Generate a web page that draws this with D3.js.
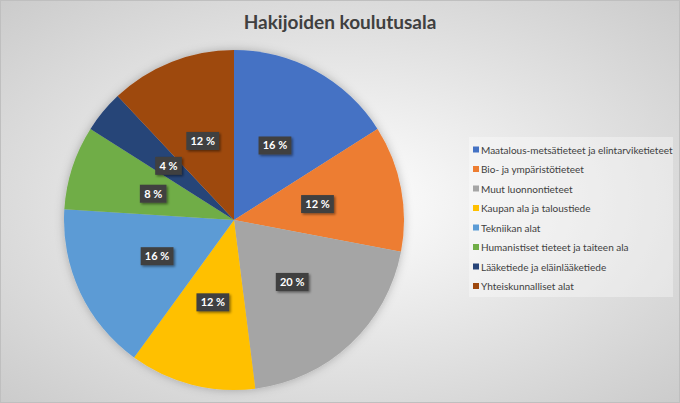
<!DOCTYPE html>
<html>
<head>
<meta charset="utf-8">
<script src="https://cdn.jsdelivr.net/npm/d3@7"></script>
<style>
  body { margin: 0; padding: 0; overflow: hidden; }
  svg { display: block; font-family: Lato, "Open Sans", sans-serif; }
</style>
</head>
<body>
<div id="chart"></div>
<script>
// Data
let categories = [
  "Maatalous-metsätieteet ja elintarviketieteet",
  "Bio- ja ympäristötieteet",
  "Muut luonnontieteet",
  "Kaupan ala ja taloustiede",
  "Tekniikan alat",
  "Humanistiset tieteet ja taiteen ala",
  "Lääketiede ja eläinlääketiede",
  "Yhteiskunnalliset alat"
];
let shares = [16, 12, 20, 12, 16, 8, 4, 12];
let colors = ["#4472C4", "#ED7D31", "#A5A5A5", "#FFC000", "#5B9BD5", "#70AD47", "#264478", "#9E480E"];

let svgWidth = 680;
let svgHeight = 403;

let svg = d3.select("#chart")
  .append("svg")
  .attr("width", svgWidth)
  .attr("height", svgHeight);

let defs = svg.append("defs");

// background gradient, light centre to gray corners
let bg = defs.append("radialGradient")
  .attr("id", "bg")
  .attr("cx", "50%").attr("cy", "50%").attr("r", "75%");
bg.append("stop").attr("offset", "0%").attr("stop-color", "#ffffff");
bg.append("stop").attr("offset", "100%").attr("stop-color", "#c8c8c8");

let shadow = defs.append("filter").attr("id", "shadow")
  .attr("x", "-20%").attr("y", "-20%").attr("width", "140%").attr("height", "140%");
shadow.append("feDropShadow")
  .attr("dx", 0).attr("dy", 0).attr("stdDeviation", 5)
  .attr("flood-color", "#000").attr("flood-opacity", 0.25);

let lblShadow = defs.append("filter").attr("id", "lblShadow")
  .attr("x", "-30%").attr("y", "-30%").attr("width", "160%").attr("height", "160%");
lblShadow.append("feDropShadow")
  .attr("dx", 1.5).attr("dy", 1.5).attr("stdDeviation", 1.2)
  .attr("flood-color", "#000").attr("flood-opacity", 0.45);

svg.append("rect")
  .attr("width", svgWidth)
  .attr("height", svgHeight)
  .attr("fill", "url(#bg)");

svg.append("rect")
  .attr("x", 0.5).attr("y", 0.5)
  .attr("width", svgWidth - 1).attr("height", svgHeight - 1)
  .attr("fill", "none")
  .attr("stroke", "#bfbfbf");

// title
svg.append("text")
  .attr("x", 340)
  .attr("y", 29)
  .attr("text-anchor", "middle")
  .attr("font-size", 19)
  .attr("font-weight", "bold")
  .attr("fill", "#404040")
  .text("Hakijoiden koulutusala");

// pie
let cx = 234, cy = 220, radius = 170;

let pie = d3.pie().sort(null).value(d => d);
let arc = d3.arc().innerRadius(0).outerRadius(radius);
let labelArc = d3.arc().innerRadius(85).outerRadius(85);

let pieGroup = svg.append("g")
  .attr("transform", `translate(${cx},${cy})`);

let arcs = pie(shares);

pieGroup.append("g")
  .attr("filter", "url(#shadow)")
  .selectAll("path")
  .data(arcs)
  .enter()
  .append("path")
  .attr("d", arc)
  .attr("fill", (d, i) => colors[i]);

let labels = pieGroup.selectAll(".lbl")
  .data(arcs)
  .enter()
  .append("g")
  .attr("class", "lbl")
  .attr("transform", d => `translate(${labelArc.centroid(d)})`);

labels.each(function(d) {
  let g = d3.select(this);
  let txt = d.data + " %";
  let w = txt.length * 6.2 + 8;
  g.append("rect")
    .attr("x", -w / 2).attr("y", -9)
    .attr("width", w).attr("height", 18)
    .attr("fill", "#404040")
    .attr("filter", "url(#lblShadow)");
  g.append("text")
    .attr("text-anchor", "middle")
    .attr("dy", "0.35em")
    .attr("font-size", 11)
    .attr("font-weight", "bold")
    .attr("fill", "#ffffff")
    .text(txt);
});

// legend
let legendX = 469, legendY = 137;
let legendStep = 19.5;

svg.append("rect")
  .attr("x", legendX).attr("y", legendY)
  .attr("width", 204).attr("height", 160)
  .attr("fill", "#ffffff")
  .attr("fill-opacity", 0.35);

let legend = svg.selectAll(".leg")
  .data(categories)
  .enter()
  .append("g")
  .attr("class", "leg")
  .attr("transform", (d, i) => `translate(${legendX + 4},${legendY + 13 + i * legendStep})`);

legend.append("rect")
  .attr("x", 0).attr("y", -3.5)
  .attr("width", 6).attr("height", 6)
  .attr("fill", (d, i) => colors[i]);

legend.append("text")
  .attr("x", 8)
  .attr("dy", "0.35em")
  .attr("font-size", 10)
  .attr("fill", "#404040")
  .text(d => d);
</script>
</body>
</html>
